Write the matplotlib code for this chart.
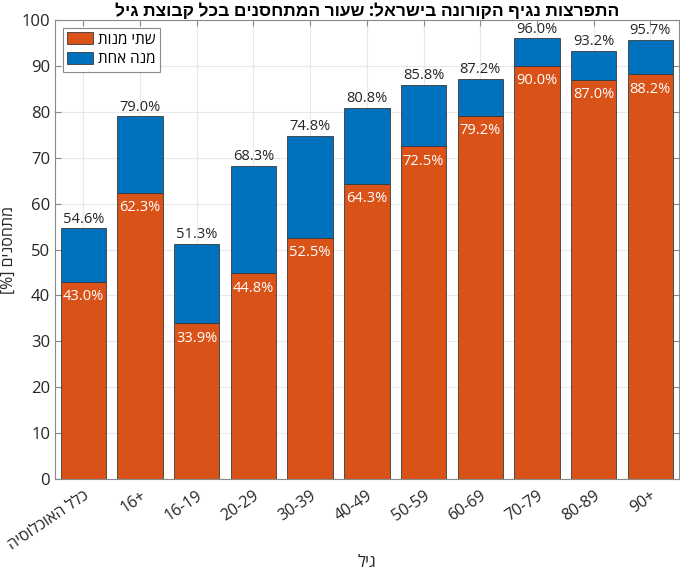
import matplotlib
matplotlib.use("Agg")
import matplotlib.pyplot as plt
import numpy as np

plt.rcParams['font.family'] = ['Open Sans', 'Liberation Sans', 'DejaVu Sans']

def rtl(s):
    return s[::-1]

categories = [rtl("כלל האוכלוסיה"), "16+", "16-19", "20-29", "30-39", "40-49",
              "50-59", "60-69", "70-79", "80-89", "90+"]
two_doses = [43.0, 62.3, 33.9, 44.8, 52.5, 64.3, 72.5, 79.2, 90.0, 87.0, 88.2]
any_dose = [54.6, 79.0, 51.3, 68.3, 74.8, 80.8, 85.8, 87.2, 96.0, 93.2, 95.7]
one_dose_only = [a - b for a, b in zip(any_dose, two_doses)]

title = rtl("התפרצות נגיף הקורונה בישראל: שעור המתחסנים בכל קבוצת גיל")
ylabel = "[%] " + rtl("מתחסנים")
xlabel = rtl("גיל")
leg_two = rtl("שתי מנות")
leg_one = rtl("מנה אחת")

ORANGE = "#D95319"
BLUE = "#0072BD"
AX = "#8a8a8a"
TXT = "#262626"

fig = plt.figure(figsize=(6.8, 5.75), dpi=100)
ax = fig.add_axes([0.081, 0.167, 0.917, 0.798])

x = np.arange(len(categories))
ax.bar(x, two_doses, width=0.8, color=ORANGE, edgecolor="#3a3a3a",
       linewidth=0.6, label=leg_two, zorder=2)
ax.bar(x, one_dose_only, bottom=two_doses, width=0.8, color=BLUE,
       edgecolor="#3a3a3a", linewidth=0.6, label=leg_one, zorder=2)

for xi, v in zip(x, any_dose):
    ax.text(xi, v + 0.4, f"{v:.1f}%", ha="center", va="bottom",
            fontsize=10.5, color=TXT, zorder=3)
for xi, v in zip(x, two_doses):
    ax.text(xi, v - 1.6, f"{v:.1f}%", ha="center", va="top",
            fontsize=10.5, color="white", zorder=3)

ax.set_xlim(-0.5, len(categories) - 0.5)
ax.set_ylim(0, 100)
ax.set_yticks(np.arange(0, 101, 10))
ax.set_xticks(x)
ax.set_xticklabels(categories, rotation=34, ha="right", va="top",
                   rotation_mode="anchor")

ax.grid(True, color="#e8e8e8", linewidth=0.8, zorder=0)
ax.set_axisbelow(True)
for sp in ax.spines.values():
    sp.set_color(AX)
    sp.set_linewidth(0.8)
ax.tick_params(axis="both", direction="in", length=4, color=AX,
               labelcolor=TXT, labelsize=11.5, top=True, right=True, width=0.8)
ax.tick_params(axis="y", labelsize=12)
ax.tick_params(axis="x", pad=6.5)

ax.set_title(title, fontsize=12.5, fontweight="bold", color="black", pad=3)
ax.set_ylabel(ylabel, fontsize=11.5, color=TXT)
ax.yaxis.set_label_coords(-0.061, 0.5)
ax.set_xlabel(xlabel, fontsize=12, color=TXT)
ax.xaxis.set_label_coords(0.5, -0.166)

leg = ax.legend(loc="upper left", fontsize=11, frameon=True, fancybox=False,
                edgecolor=AX, framealpha=1, handlelength=1.7, handleheight=0.8,
                handletextpad=0.3, borderaxespad=0.5, borderpad=0.3,
                labelspacing=0.3)
leg.get_frame().set_linewidth(0.8)

fig.savefig("out.png", dpi=100)
